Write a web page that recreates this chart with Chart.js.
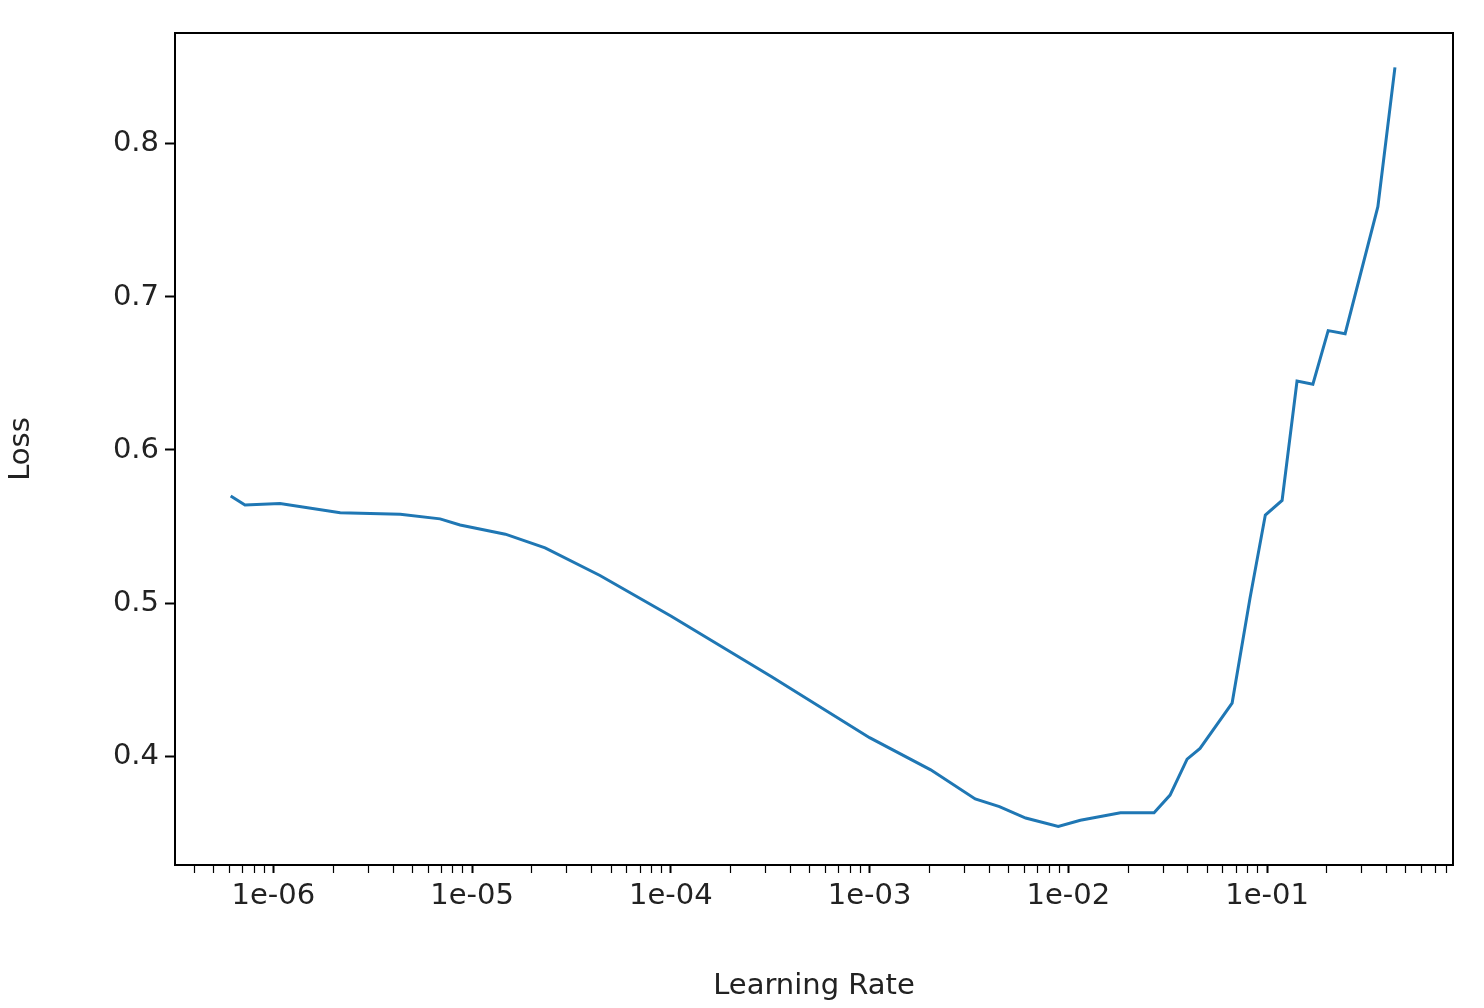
<!DOCTYPE html>
<html>
<head>
<meta charset="utf-8">
<script src="https://cdn.jsdelivr.net/npm/chart.js@4/dist/chart.umd.min.js"></script>
<style>
  body { margin: 0; background: #fff; }
  #wrap { width: 1484px; height: 1008px; }
</style>
</head>
<body>
<div id="wrap"><canvas id="lrChart"></canvas></div>
<script>
// learning rate finder values
const learningRates = [6.1e-7, 7.2e-7, 1.08e-6, 2.17e-6, 4.35e-6, 6.9e-6, 8.7e-6, 1.47e-5, 2.33e-5,
  4.4e-5, 1e-4, 3.2e-4, 1e-3, 2.03e-3, 3.4e-3, 4.5e-3, 6.1e-3, 8.9e-3, 1.15e-2, 1.83e-2, 2.7e-2,
  3.25e-2, 3.96e-2, 4.6e-2, 6.67e-2, 8.2e-2, 9.8e-2, 0.119, 0.1415, 0.170, 0.203, 0.247, 0.361, 0.44];
const losses = [0.570, 0.564, 0.565, 0.559, 0.558, 0.555, 0.551, 0.545, 0.536,
  0.518, 0.4915, 0.452, 0.412, 0.391, 0.372, 0.367, 0.3595, 0.354, 0.358, 0.363, 0.363,
  0.3745, 0.398, 0.405, 0.4346, 0.503, 0.5575, 0.567, 0.645, 0.643, 0.678, 0.676, 0.759, 0.850];
const yTicks = [0.4, 0.5, 0.6, 0.7, 0.8];
const decades = [-7, -6, -5, -4, -3, -2, -1];

const font = { family: "DejaVu Sans", size: 29 };

const frame = {
  id: 'frame',
  afterDraw(chart) {
    const a = chart.chartArea, c = chart.ctx;
    c.save();
    c.strokeStyle = '#000';
    c.lineWidth = 2;
    c.strokeRect(a.left, a.top, a.right - a.left, a.bottom - a.top);
    c.restore();
  }
};

new Chart("lrChart", {
  type: "line",
  data: {
    datasets: [{
      data: learningRates.map((x, i) => ({ x: x, y: losses[i] })),
      borderColor: "#1f77b4",
      borderWidth: 3,
      pointRadius: 0,
      tension: 0,
      fill: false
    }]
  },
  options: {
    responsive: true,
    maintainAspectRatio: false,
    animation: false,
    layout: { padding: { top: 33, right: 31, left: 0, bottom: 0 } },
    plugins: { legend: { display: false }, tooltip: { enabled: false } },
    scales: {
      x: {
        type: "logarithmic",
        min: 3.2e-7,
        max: 0.862,
        afterBuildTicks(axis) {
          const t = [];
          decades.forEach(d => {
            for (let m = 1; m <= 9; m++) {
              const v = m * Math.pow(10, d);
              if (v >= axis.min && v <= axis.max) t.push({ value: v, major: m === 1 });
            }
          });
          axis.ticks = t;
        },
        afterFit(axis) { axis.height = 143; },
        grid: {
          drawOnChartArea: false,
          drawTicks: true,
          tickLength: 8,
          tickColor: "#000",
          tickWidth: ctx => (ctx.tick && ctx.tick.major ? 2 : 1.2)
        },
        border: { display: false },
        ticks: {
          autoSkip: false,
          maxRotation: 0,
          color: "#222",
          font: font,
          padding: 6,
          callback: function (v) {
            const e = Math.round(Math.log10(v));
            if (Math.abs(v - Math.pow(10, e)) / v > 1e-6) return "";
            return "1e-" + String(-e).padStart(2, "0");
          }
        },
        title: { display: true, text: "Learning Rate", color: "#222", font: font, padding: { top: 2 } }
      },
      y: {
        min: 0.3288,
        max: 0.8725,
        afterBuildTicks(axis) { axis.ticks = yTicks.map(v => ({ value: v })); },
        afterFit(axis) { axis.width = 175; },
        grid: { drawOnChartArea: false, drawTicks: true, tickLength: 10, tickColor: "#000", tickWidth: 2 },
        border: { display: false },
        ticks: { color: "#222", font: font, padding: 6, callback: v => v.toFixed(1) },
        title: { display: true, text: "Loss", color: "#222", font: font, padding: { bottom: 0 } }
      }
    }
  },
  plugins: [frame]
});
</script>
</body>
</html>
